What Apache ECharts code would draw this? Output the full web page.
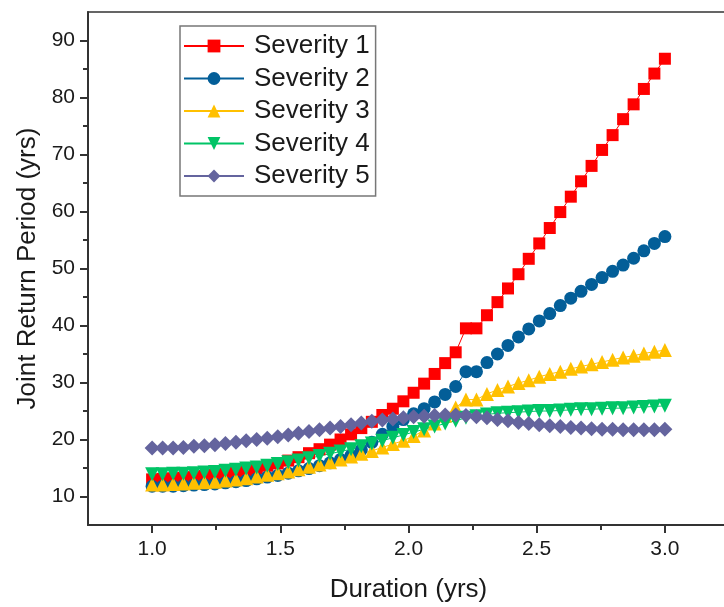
<!DOCTYPE html>
<html>
<head>
<meta charset="utf-8">
<style>
  html, body { margin: 0; padding: 0; background: #fff; }
  #chart { width: 724px; height: 607px; }
</style>
<script src="https://cdn.jsdelivr.net/npm/echarts@6/dist/echarts.min.js"></script>
</head>
<body>
<div id="chart"></div>
<script>
// duration (yrs), 50 points from 1 to 3
const durations = [1.000, 1.041, 1.082, 1.122, 1.163, 1.204, 1.245, 1.286, 1.327, 1.367,
  1.408, 1.449, 1.490, 1.531, 1.571, 1.612, 1.653, 1.694, 1.735, 1.776,
  1.816, 1.857, 1.898, 1.939, 1.980, 2.020, 2.061, 2.102, 2.143, 2.184,
  2.224, 2.265, 2.306, 2.347, 2.388, 2.429, 2.469, 2.510, 2.551, 2.592,
  2.633, 2.673, 2.714, 2.755, 2.796, 2.837, 2.878, 2.918, 2.959, 3.000]

const severity1 = [13.0, 13.1, 13.2, 13.3, 13.4, 13.6, 13.8, 14.0, 14.3, 14.6,
  15.0, 15.4, 15.8, 16.3, 16.9, 17.6, 18.3, 19.1, 20.0, 20.9,
  22.0, 23.1, 24.3, 25.4, 26.7, 28.2, 29.8, 31.5, 33.4, 35.3,
  39.5, 39.5, 41.8, 44.1, 46.5, 49.0, 51.7, 54.4, 57.1, 59.9,
  62.6, 65.3, 68.0, 70.8, 73.4, 76.2, 78.8, 81.5, 84.2, 86.8]

const severity2 = [11.8, 11.8, 11.8, 11.9, 12.0, 12.1, 12.2, 12.4, 12.6, 12.8,
  13.1, 13.4, 13.7, 14.1, 14.5, 14.9, 15.4, 15.9, 16.5, 17.2,
  18.2, 19.5, 20.9, 22.3, 23.5, 24.5, 25.4, 26.6, 27.9, 29.3,
  31.9, 31.9, 33.5, 35.0, 36.5, 38.0, 39.4, 40.8, 42.1, 43.5,
  44.8, 46.0, 47.2, 48.4, 49.5, 50.6, 51.8, 53.1, 54.4, 55.6]

const severity3 = [12.1, 12.1, 12.2, 12.3, 12.4, 12.5, 12.6, 12.8, 13.0, 13.2,
  13.5, 13.8, 14.1, 14.4, 14.8, 15.2, 15.6, 16.0, 16.5, 17.0,
  17.5, 18.0, 18.6, 19.2, 19.8, 20.6, 21.6, 22.8, 24.2, 25.6,
  27.0, 27.0, 28.0, 28.7, 29.3, 29.9, 30.4, 31.0, 31.5, 31.9,
  32.4, 32.8, 33.2, 33.6, 34.0, 34.4, 34.7, 35.1, 35.4, 35.7]

const severity4 = [13.9, 13.9, 14.0, 14.0, 14.1, 14.2, 14.3, 14.5, 14.7, 14.9,
  15.1, 15.4, 15.7, 16.0, 16.3, 16.7, 17.1, 17.5, 17.9, 18.3,
  18.8, 19.3, 19.8, 20.3, 20.8, 21.3, 21.8, 22.3, 22.8, 23.3,
  23.8, 24.1, 24.4, 24.6, 24.7, 24.8, 24.9, 25.0, 25.0, 25.1,
  25.2, 25.3, 25.3, 25.4, 25.5, 25.5, 25.6, 25.7, 25.8, 25.9]

const severity5 = [18.5, 18.5, 18.5, 18.6, 18.8, 18.9, 19.1, 19.3, 19.5, 19.8,
  20.0, 20.2, 20.5, 20.8, 21.1, 21.4, 21.7, 22.0, 22.3, 22.6,
  22.9, 23.2, 23.4, 23.6, 23.8, 24.0, 24.1, 24.2, 24.3, 24.3,
  24.2, 24.0, 23.8, 23.5, 23.3, 23.0, 22.8, 22.6, 22.4, 22.3,
  22.1, 22.0, 21.9, 21.8, 21.8, 21.7, 21.7, 21.7, 21.7, 21.8]

const xTicks = [1.0, 1.5, 2.0, 2.5, 3.0]
const xMinorTicks = [1.25, 1.75, 2.25, 2.75]
const yTicks = [10, 20, 30, 40, 50, 60, 70, 80, 90]
const yMinorTicks = [15, 25, 35, 45, 55, 65, 75, 85]

const font = 'Liberation Sans, Arial, sans-serif'
const ink = '#1a1a1a'
const axisColor = '#333'

function pairs(values) {
  return durations.map((x, i) => [x, values[i]])
}

const seriesDefs = [
  { name: 'Severity 1', values: severity1, color: '#ff0000', symbol: 'rect', size: 12, rotate: 0 },
  { name: 'Severity 2', values: severity2, color: '#035e98', symbol: 'circle', size: 13, rotate: 0 },
  { name: 'Severity 3', values: severity3, color: '#ffc000', symbol: 'triangle', size: 14, rotate: 0 },
  { name: 'Severity 4', values: severity4, color: '#00c466', symbol: 'triangle', size: 14, rotate: 180 },
  { name: 'Severity 5', values: severity5, color: '#64649e', symbol: 'diamond', size: 15, rotate: 0 }
]

const chart = echarts.init(document.getElementById('chart'))

const option = {
  animation: false,
  backgroundColor: '#fff',
  grid: {
    left: 88, top: 12, right: -5, bottom: 82,
    show: true, borderColor: axisColor, borderWidth: 1.5,
    containLabel: false, outerBoundsMode: 'none'
  },
  legend: {
    orient: 'vertical',
    left: 180, top: 26,
    padding: [5, 6, 5, 3],
    itemWidth: 60, itemHeight: 16, itemGap: 2.5,
    borderColor: '#777', borderWidth: 1.5,
    textStyle: { fontSize: 26, lineHeight: 30, color: ink, fontFamily: font, padding: [0, 0, 0, 5] },
    data: seriesDefs.map(s => s.name)
  },
  xAxis: [
    {
      type: 'value', min: 0.75, max: 3.25,
      name: 'Duration (yrs)', nameLocation: 'middle', nameGap: 52,
      nameTextStyle: { fontSize: 26, color: ink, fontFamily: font },
      axisLine: { show: true, lineStyle: { color: axisColor, width: 2 } },
      axisTick: { show: true, customValues: xTicks, length: 8, lineStyle: { color: axisColor, width: 2 } },
      axisLabel: { customValues: xTicks, formatter: v => v.toFixed(1), fontSize: 21, margin: 14, color: ink, fontFamily: font },
      splitLine: { show: false }
    },
    {
      type: 'value', min: 0.75, max: 3.25, position: 'bottom',
      axisLine: { show: false },
      axisTick: { show: true, customValues: xMinorTicks, length: 5, lineStyle: { color: axisColor, width: 2 } },
      axisLabel: { show: false },
      splitLine: { show: false }
    }
  ],
  yAxis: [
    {
      type: 'value', min: 5, max: 95,
      name: 'Joint Return Period (yrs)', nameLocation: 'middle', nameGap: 41,
      nameTextStyle: { fontSize: 26, color: ink, fontFamily: font },
      axisLine: { show: true, lineStyle: { color: axisColor, width: 2 } },
      axisTick: { show: true, customValues: yTicks, length: 8, lineStyle: { color: axisColor, width: 2 } },
      axisLabel: { customValues: yTicks, fontSize: 21, margin: 13, color: ink, fontFamily: font },
      splitLine: { show: false }
    },
    {
      type: 'value', min: 5, max: 95, position: 'left',
      axisLine: { show: false },
      axisTick: { show: true, customValues: yMinorTicks, length: 5, lineStyle: { color: axisColor, width: 2 } },
      axisLabel: { show: false },
      splitLine: { show: false }
    }
  ],
  series: seriesDefs.map(s => ({
    name: s.name,
    type: 'line',
    xAxisIndex: 0,
    yAxisIndex: 0,
    data: pairs(s.values),
    symbol: s.symbol,
    symbolSize: s.size,
    symbolRotate: s.rotate,
    showAllSymbol: true,
    color: s.color,
    itemStyle: { color: s.color },
    lineStyle: { color: s.color, width: 1 }
  }))
}

chart.setOption(option)
</script>
</body>
</html>
